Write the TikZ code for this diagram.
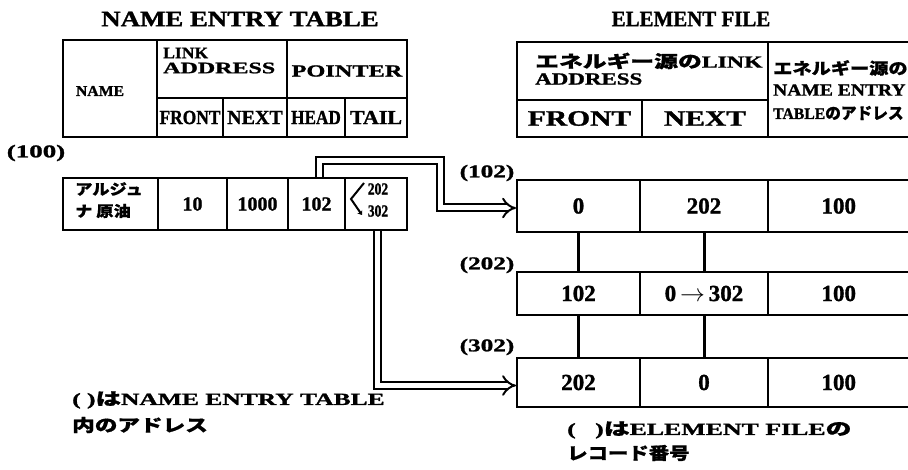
\documentclass[tikz,border=0pt]{standalone}
\usepackage{fontspec}
\setmainfont{Liberation Serif}[BoldFeatures={FakeBold=1.2}]
\newfontfamily\jp{Noto Sans CJK JP}[BoldFeatures={FakeBold=0.8}]
\usetikzlibrary{arrows.meta}
\newcommand\sx[2]{\scalebox{#1}[1]{#2}}
\newcommand\fs[1]{\fontsize{#1}{#1}\selectfont}
\begin{document}
\begin{tikzpicture}[x=1pt,y=-1pt,
  every node/.style={inner sep=0pt, font=\bfseries},
  cell/.style={draw, line width=2pt},
  link/.style={line width=3pt},
  dbl/.style={double, double distance=5pt, line width=2pt, line join=miter, -{Implies}},
  lbl/.style={font=\bfseries\fs{18}}]
\clip (0,0) rectangle (908,470);
\fill[white] (0,0) rectangle (908,470);

% ---------- titles
\node[font=\bfseries\fs{22}] (t1) at (240,19) {\sx{1.22}{NAME ENTRY TABLE}};
\node[font=\bfseries\fs{22}] (t2) at (691,19) {\sx{0.95}{ELEMENT FILE}};

% ---------- NAME ENTRY TABLE header
\node[cell, minimum width=94pt, minimum height=97pt] (hname) at (110,88.5) {};
\node[cell, minimum width=130pt, minimum height=58pt] (hlink) at (222,69) {};
\node[cell, minimum width=120pt, minimum height=58pt] (hptr) at (347,69) {};
\node[cell, minimum width=66pt, minimum height=39pt] (hfront) at (190,117.5) {};
\node[cell, minimum width=64pt, minimum height=39pt] (hnext) at (255,117.5) {};
\node[cell, minimum width=58pt, minimum height=39pt] (hhead) at (316,117.5) {};
\node[cell, minimum width=62pt, minimum height=39pt] (htail) at (376,117.5) {};
\node[font=\bfseries\fs{15}] (tname) at (100,91) {\sx{1.05}{NAME}};
\node[font=\bfseries\fs{16}, anchor=west] (tlink) at (163,53) {\sx{1.1}{LINK}};
\node[font=\bfseries\fs{16}, anchor=west] (taddr) at (163,68) {\sx{1.5}{ADDRESS}};
\node[font=\bfseries\fs{17}] (tptr) at (347,71) {\sx{1.43}{POINTER}};
\node[font=\bfseries\fs{20}] (tfront) at (190,117.5) {\sx{0.87}{FRONT}};
\node[font=\bfseries\fs{20}] (tnext) at (255,117.5) {\sx{1.0}{NEXT}};
\node[font=\bfseries\fs{20}] (thead) at (316,117.5) {\sx{0.86}{HEAD}};
\node[font=\bfseries\fs{20}] (ttail) at (376,117.5) {\sx{1.1}{TAIL}};

% ---------- NAME ENTRY TABLE row
\node[lbl] (l100) at (36,153) {\sx{1.5}{(100)}};
\node[cell, minimum width=95pt, minimum height=52pt] (nm1) at (110.5,204) {};
\node[cell, minimum width=69pt, minimum height=52pt, font=\bfseries\fs{20}] (nm2) at (192.5,204) {10};
\node[cell, minimum width=61pt, minimum height=52pt, font=\bfseries\fs{20}] (nm3) at (257.5,204) {1000};
\node[cell, minimum width=57pt, minimum height=52pt, font=\bfseries\fs{20}] (head) at (316.5,204) {102};
\node[cell, minimum width=62pt, minimum height=52pt] (tail) at (376,204) {};
\node[font=\jp\bfseries\fs{15}, anchor=west] (jn1) at (75,189) {\sx{1.15}{アルジュ}};
\node[font=\jp\bfseries\fs{15}, anchor=west] (jn2) at (75,211) {\sx{1.15}{ナ 原油}};
\node[font=\bfseries\fs{17}] (v202) at (378,189) {\sx{0.8}{202}};
\node[font=\bfseries\fs{17}] (v302) at (378,211) {\sx{0.8}{302}};
\draw[line width=2pt, -{Stealth[length=4pt,width=6pt]}] (364,183) -- (351,199) -- (362,215);

% ---------- ELEMENT FILE header
\node[cell, minimum width=251pt, minimum height=58pt] (elink) at (642.5,71) {};
\node[cell, minimum width=125pt, minimum height=37pt] (efront) at (579.5,118.5) {};
\node[cell, minimum width=126pt, minimum height=37pt] (enext) at (705,118.5) {};
\node[cell, minimum width=147pt, minimum height=95pt] (enet) at (841.5,89.5) {};
\node[font=\bfseries\fs{17}, anchor=west] (te1) at (535,61) {\sx{1.4}{{\jp エネルギー源の}LINK}};
\node[font=\bfseries\fs{17}, anchor=west] (te2) at (535,79) {\sx{1.35}{ADDRESS}};
\node[font=\bfseries\fs{22}] (tefront) at (579.5,118.5) {\sx{1.34}{FRONT}};
\node[font=\bfseries\fs{22}] (tenext) at (705,118.5) {\sx{1.34}{NEXT}};
\node[font=\jp\bfseries\fs{16}, anchor=west] (tn1) at (773,68) {\sx{1.2}{エネルギー源の}};
\node[font=\bfseries\fs{17}, anchor=west] (tn2) at (773,90) {\sx{1.15}{NAME ENTRY}};
\node[font=\bfseries\fs{16}, anchor=west] (tn3) at (773,113) {\sx{0.98}{TABLE{\jp のアドレス}}};

% ---------- ELEMENT FILE rows
\tikzset{num/.style={font=\bfseries\fs{23}}}
\node[lbl] (l102) at (487,173) {\sx{1.4}{(102)}};
\node[cell, num, minimum width=123pt, minimum height=52pt] (r1a) at (578.5,206) {0};
\node[cell, num, minimum width=128pt, minimum height=52pt] (r1b) at (704,206) {202};
\node[cell, num, minimum width=147pt, minimum height=52pt, text width=140pt, align=left] (r1c) at (841.5,206) {\hspace*{50pt}100};

\node[lbl] (l202) at (487,265) {\sx{1.4}{(202)}};
\node[cell, num, minimum width=123pt, minimum height=43pt] (r2a) at (578.5,293.5) {102};
\node[cell, num, minimum width=128pt, minimum height=43pt] (r2b) at (704,293.5) {0\,$\rightarrow$\,302};
\node[cell, num, minimum width=147pt, minimum height=43pt, text width=140pt, align=left] (r2c) at (841.5,293.5) {\hspace*{50pt}100};

\node[lbl] (l302) at (487,347) {\sx{1.4}{(302)}};
\node[cell, num, minimum width=123pt, minimum height=49pt] (r3a) at (578.5,382.5) {202};
\node[cell, num, minimum width=128pt, minimum height=49pt] (r3b) at (704,382.5) {0};
\node[cell, num, minimum width=147pt, minimum height=49pt, text width=140pt, align=left] (r3c) at (841.5,382.5) {\hspace*{50pt}100};

\draw[link] (r1a.south) -- (r2a.north);
\draw[link] (r1b.south) -- (r2b.north);
\draw[link] (r2a.south) -- (r3a.north);
\draw[link] (r2b.south) -- (r3b.north);

% ---------- pointers
\coordinate (k1) at (440,161);
\draw[dbl] ([xshift=2.5pt]head.north) |- (k1) |- ([yshift=-2pt]r1a.west);
\draw[dbl] ([xshift=1pt]tail.south) |- ([yshift=-3pt]r3a.west);

% ---------- notes
\node[font=\bfseries\fs{17}, anchor=west] (f1a) at (72,400) {\sx{1.5}{(\ ){\jp は}NAME ENTRY TABLE}};
\node[font=\jp\bfseries\fs{17}, anchor=west] (f1b) at (72,425) {\sx{1.33}{内のアドレス}};
\node[font=\bfseries\fs{17}, anchor=west] (f2a) at (567,430) {\sx{1.52}{(\ \ \ ){\jp は}ELEMENT FILE{\jp の}}};
\node[font=\jp\bfseries\fs{17}, anchor=west] (f2b) at (567,453) {\sx{1.2}{レコード番号}};
\end{tikzpicture}
\end{document}
